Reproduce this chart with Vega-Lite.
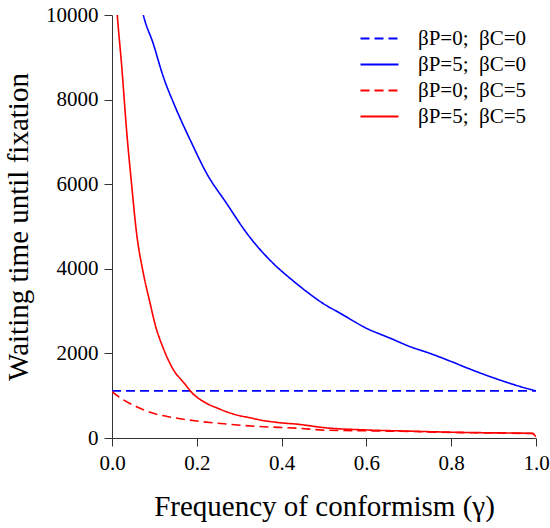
{
  "$schema": "https://vega.github.io/schema/vega-lite/v6.json",
  "width": 424,
  "height": 423,
  "autosize": "none",
  "padding": {"left": 112, "top": 15, "right": 14, "bottom": 90},
  "background": "white",
  "config": {
    "font": "Liberation Serif",
    "view": {"stroke": null}
  },
  "data": {
    "values": [
      {"g": 0.0, "w": 1115, "s": "βP=0;\u00a0\u00a0βC=0"},
      {"g": 1.0, "w": 1115, "s": "βP=0;\u00a0\u00a0βC=0"},

      {"g": 0.06, "w": 10700, "s": "βP=5;\u00a0\u00a0βC=0"},
      {"g": 0.074, "w": 10000, "s": "βP=5;\u00a0\u00a0βC=0"},
      {"g": 0.097, "w": 9330, "s": "βP=5;\u00a0\u00a0βC=0"},
      {"g": 0.121, "w": 8540, "s": "βP=5;\u00a0\u00a0βC=0"},
      {"g": 0.149, "w": 7830, "s": "βP=5;\u00a0\u00a0βC=0"},
      {"g": 0.188, "w": 6970, "s": "βP=5;\u00a0\u00a0βC=0"},
      {"g": 0.223, "w": 6260, "s": "βP=5;\u00a0\u00a0βC=0"},
      {"g": 0.27, "w": 5550, "s": "βP=5;\u00a0\u00a0βC=0"},
      {"g": 0.318, "w": 4840, "s": "βP=5;\u00a0\u00a0βC=0"},
      {"g": 0.38, "w": 4130, "s": "βP=5;\u00a0\u00a0βC=0"},
      {"g": 0.42, "w": 3775, "s": "βP=5;\u00a0\u00a0βC=0"},
      {"g": 0.459, "w": 3460, "s": "βP=5;\u00a0\u00a0βC=0"},
      {"g": 0.498, "w": 3180, "s": "βP=5;\u00a0\u00a0βC=0"},
      {"g": 0.538, "w": 2950, "s": "βP=5;\u00a0\u00a0βC=0"},
      {"g": 0.601, "w": 2590, "s": "βP=5;\u00a0\u00a0βC=0"},
      {"g": 0.656, "w": 2360, "s": "βP=5;\u00a0\u00a0βC=0"},
      {"g": 0.703, "w": 2160, "s": "βP=5;\u00a0\u00a0βC=0"},
      {"g": 0.75, "w": 2000, "s": "βP=5;\u00a0\u00a0βC=0"},
      {"g": 0.797, "w": 1820, "s": "βP=5;\u00a0\u00a0βC=0"},
      {"g": 0.844, "w": 1630, "s": "βP=5;\u00a0\u00a0βC=0"},
      {"g": 0.892, "w": 1450, "s": "βP=5;\u00a0\u00a0βC=0"},
      {"g": 0.939, "w": 1290, "s": "βP=5;\u00a0\u00a0βC=0"},
      {"g": 0.986, "w": 1150, "s": "βP=5;\u00a0\u00a0βC=0"},
      {"g": 1.0, "w": 1115, "s": "βP=5;\u00a0\u00a0βC=0"},

      {"g": 0.0, "w": 1095, "s": "βP=0;\u00a0\u00a0βC=5"},
      {"g": 0.027, "w": 900, "s": "βP=0;\u00a0\u00a0βC=5"},
      {"g": 0.058, "w": 740, "s": "βP=0;\u00a0\u00a0βC=5"},
      {"g": 0.097, "w": 584, "s": "βP=0;\u00a0\u00a0βC=5"},
      {"g": 0.133, "w": 504, "s": "βP=0;\u00a0\u00a0βC=5"},
      {"g": 0.2, "w": 400, "s": "βP=0;\u00a0\u00a0βC=5"},
      {"g": 0.27, "w": 330, "s": "βP=0;\u00a0\u00a0βC=5"},
      {"g": 0.341, "w": 275, "s": "βP=0;\u00a0\u00a0βC=5"},
      {"g": 0.443, "w": 229, "s": "βP=0;\u00a0\u00a0βC=5"},
      {"g": 0.5, "w": 185, "s": "βP=0;\u00a0\u00a0βC=5"},
      {"g": 0.6, "w": 170, "s": "βP=0;\u00a0\u00a0βC=5"},
      {"g": 0.7, "w": 155, "s": "βP=0;\u00a0\u00a0βC=5"},
      {"g": 0.8, "w": 132, "s": "βP=0;\u00a0\u00a0βC=5"},
      {"g": 0.9, "w": 118, "s": "βP=0;\u00a0\u00a0βC=5"},
      {"g": 1.0, "w": 105, "s": "βP=0;\u00a0\u00a0βC=5"},

      {"g": 0.0, "w": 12000, "s": "βP=5;\u00a0\u00a0βC=5"},
      {"g": 0.0125, "w": 10000, "s": "βP=5;\u00a0\u00a0βC=5"},
      {"g": 0.023, "w": 8780, "s": "βP=5;\u00a0\u00a0βC=5"},
      {"g": 0.035, "w": 7200, "s": "βP=5;\u00a0\u00a0βC=5"},
      {"g": 0.046, "w": 6020, "s": "βP=5;\u00a0\u00a0βC=5"},
      {"g": 0.058, "w": 4840, "s": "βP=5;\u00a0\u00a0βC=5"},
      {"g": 0.074, "w": 3890, "s": "βP=5;\u00a0\u00a0βC=5"},
      {"g": 0.09, "w": 3180, "s": "βP=5;\u00a0\u00a0βC=5"},
      {"g": 0.101, "w": 2710, "s": "βP=5;\u00a0\u00a0βC=5"},
      {"g": 0.121, "w": 2120, "s": "βP=5;\u00a0\u00a0βC=5"},
      {"g": 0.145, "w": 1610, "s": "βP=5;\u00a0\u00a0βC=5"},
      {"g": 0.17, "w": 1300, "s": "βP=5;\u00a0\u00a0βC=5"},
      {"g": 0.19, "w": 1056, "s": "βP=5;\u00a0\u00a0βC=5"},
      {"g": 0.222, "w": 825, "s": "βP=5;\u00a0\u00a0βC=5"},
      {"g": 0.25, "w": 700, "s": "βP=5;\u00a0\u00a0βC=5"},
      {"g": 0.27, "w": 620, "s": "βP=5;\u00a0\u00a0βC=5"},
      {"g": 0.3, "w": 530, "s": "βP=5;\u00a0\u00a0βC=5"},
      {"g": 0.325, "w": 480, "s": "βP=5;\u00a0\u00a0βC=5"},
      {"g": 0.35, "w": 425, "s": "βP=5;\u00a0\u00a0βC=5"},
      {"g": 0.388, "w": 370, "s": "βP=5;\u00a0\u00a0βC=5"},
      {"g": 0.443, "w": 320, "s": "βP=5;\u00a0\u00a0βC=5"},
      {"g": 0.5, "w": 245, "s": "βP=5;\u00a0\u00a0βC=5"},
      {"g": 0.6, "w": 190, "s": "βP=5;\u00a0\u00a0βC=5"},
      {"g": 0.7, "w": 163, "s": "βP=5;\u00a0\u00a0βC=5"},
      {"g": 0.8, "w": 137, "s": "βP=5;\u00a0\u00a0βC=5"},
      {"g": 0.9, "w": 122, "s": "βP=5;\u00a0\u00a0βC=5"},
      {"g": 0.99, "w": 110, "s": "βP=5;\u00a0\u00a0βC=5"},
      {"g": 1.0, "w": 30, "s": "βP=5;\u00a0\u00a0βC=5"}
    ]
  },
  "mark": {"type": "line", "clip": true, "strokeWidth": 1.6, "interpolate": "monotone"},
  "encoding": {
    "x": {
      "field": "g",
      "type": "quantitative",
      "scale": {"domain": [0, 1], "nice": false, "zero": false},
      "axis": {
        "values": [0, 0.2, 0.4, 0.6, 0.8, 1.0],
        "format": ".1f",
        "grid": false,
        "domainColor": "#333333",
        "tickColor": "#333333",
        "tickSize": 8,
        "labelFlush": false,
        "labelFont": "Liberation Serif",
        "labelFontSize": 21,
        "labelColor": "#000000",
        "labelPadding": 6,
        "title": "Frequency of conformism (γ)",
        "titleFont": "Liberation Serif",
        "titleFontSize": 29,
        "titleFontWeight": "normal",
        "titleColor": "#000000",
        "titlePadding": 19
      }
    },
    "y": {
      "field": "w",
      "type": "quantitative",
      "scale": {"domain": [0, 10000], "nice": false},
      "axis": {
        "values": [0, 2000, 4000, 6000, 8000, 10000],
        "format": "d",
        "grid": false,
        "domainColor": "#333333",
        "tickColor": "#333333",
        "tickSize": 8,
        "labelFont": "Liberation Serif",
        "labelFontSize": 21,
        "labelColor": "#000000",
        "labelPadding": 6,
        "title": "Waiting time until fixation",
        "titleFont": "Liberation Serif",
        "titleFontSize": 29,
        "titleFontWeight": "normal",
        "titleColor": "#000000",
        "titlePadding": 12
      }
    },
    "color": {
      "field": "s",
      "type": "nominal",
      "scale": {
        "domain": ["βP=0;\u00a0\u00a0βC=0", "βP=5;\u00a0\u00a0βC=0", "βP=0;\u00a0\u00a0βC=5", "βP=5;\u00a0\u00a0βC=5"],
        "range": ["#0000FF", "#0000FF", "#FF0000", "#FF0000"]
      },
      "legend": {
        "title": null,
        "orient": "none",
        "legendX": 257,
        "legendY": 13,
        "padding": 0,
        "symbolType": "M-2,0H2",
        "symbolSize": 361,
        "symbolStrokeWidth": 1.8,
        "symbolFillColor": "transparent",
        "labelFont": "Liberation Serif",
        "labelFontSize": 21,
        "labelColor": "#000000",
        "labelOffset": 28,
        "rowPadding": 4
      }
    },
    "strokeDash": {
      "field": "s",
      "type": "nominal",
      "scale": {
        "domain": ["βP=0;\u00a0\u00a0βC=0", "βP=5;\u00a0\u00a0βC=0", "βP=0;\u00a0\u00a0βC=5", "βP=5;\u00a0\u00a0βC=5"],
        "range": [[9, 5], [1, 0], [9, 5], [1, 0]]
      },
      "legend": null
    }
  }
}
